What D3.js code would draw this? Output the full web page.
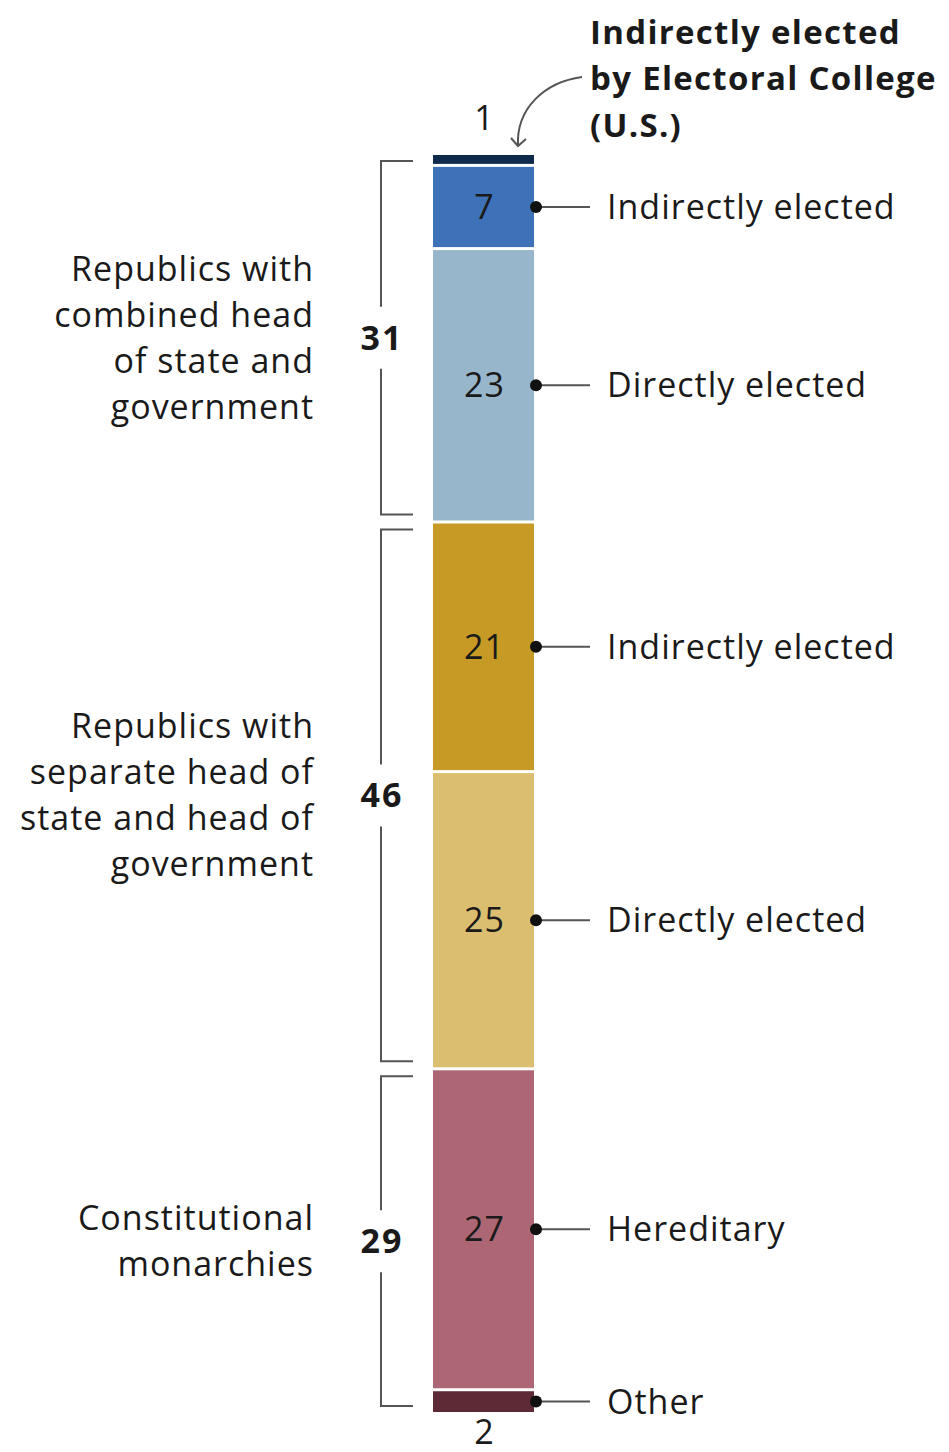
<!DOCTYPE html>
<meta charset='utf-8'>
<head>
  <title>Heads of state</title>
</head>

<style>
body {
  margin: 0;
  background: white;
  font-family: "Open Sans", Roboto, sans-serif;
}

text {
  fill: #1a1a1a;
}

.cat {
  font-size: 34px;
  letter-spacing: 1px;
}

.total {
  font-size: 34px;
  font-weight: bold;
  letter-spacing: 2px;
}

.note {
  font-size: 33px;
  font-weight: bold;
  letter-spacing: 1.3px;
}

.bracket, .leader, .arrow {
  fill: none;
  stroke: #555;
  stroke-width: 2;
}
</style>

<body>
  <svg width='949' height='1452'></svg>

  <script src='https://cdn.jsdelivr.net/npm/d3@7'></script>
  <script>
// segments, top to bottom
var values = [1, 7, 23, 21, 25, 27, 2];
var colors = ['#0f2a4c', '#3d72b8', '#98b6cb', '#c79a26', '#dbbe6f', '#ad6673', '#5d2a35'];
var sideLabels = [null, 'Indirectly elected', 'Directly elected', 'Indirectly elected',
                  'Directly elected', 'Hereditary', 'Other'];

// groups: index range into values
var groups = [
  {first: 0, last: 2, lines: ['Republics with', 'combined head', 'of state and', 'government']},
  {first: 3, last: 4, lines: ['Republics with', 'separate head of', 'state and head of', 'government']},
  {first: 5, last: 6, lines: ['Constitutional', 'monarchies']}
];

var noteLines = ['Indirectly elected', 'by Electoral College', '(U.S.)'];

var svg = d3.select('svg');
var gap = 3;
var barX = 433, barW = 101;

var total = d3.sum(values);
var y = d3.scaleLinear().domain([0, total]).range([155, 1415]);

var segs = [];
var acc = 0;
values.forEach(function(v, i) {
  segs.push({v: v, i: i, start: acc, end: acc + v});
  acc += v;
});
segs.forEach(function(d) {
  d.y0 = y(d.start);
  d.y1 = y(d.end) - gap;
  d.mid = (d.y0 + d.y1) / 2;
});

svg.selectAll('rect.seg')
  .data(segs)
  .enter()
  .append('rect')
  .attr('class', 'seg')
  .attr('x', barX)
  .attr('width', barW)
  .attr('y', function(d) { return d.y0; })
  .attr('height', function(d) { return d.y1 - d.y0; })
  .attr('fill', function(d) { return colors[d.i]; });

// value labels: inside for big ones, above/below for the thin ones
svg.selectAll('text.val')
  .data(segs)
  .enter()
  .append('text')
  .attr('class', 'cat')
  .attr('text-anchor', 'middle')
  .attr('x', barX + barW / 2 + 1)
  .attr('y', function(d, i) {
    if (i === 0) return d.y0 - 37;
    if (i === segs.length - 1) return d.y1 + 20;
    return d.mid;
  })
  .attr('dy', '0.35em')
  .text(function(d) { return d.v; });

// leaders and side labels
var labelled = segs.filter(function(d) { return sideLabels[d.i]; });

svg.selectAll('line.leader')
  .data(labelled)
  .enter()
  .append('line')
  .attr('class', 'leader')
  .attr('x1', barX + barW + 2)
  .attr('x2', 590)
  .attr('y1', function(d) { return d.mid; })
  .attr('y2', function(d) { return d.mid; });

svg.selectAll('circle.dot')
  .data(labelled)
  .enter()
  .append('circle')
  .attr('cx', barX + barW + 2)
  .attr('cy', function(d) { return d.mid; })
  .attr('r', 6)
  .attr('fill', '#111');

svg.selectAll('text.side')
  .data(labelled)
  .enter()
  .append('text')
  .attr('class', 'cat')
  .attr('x', 607)
  .attr('y', function(d) { return d.mid; })
  .attr('dy', '0.35em')
  .text(function(d) { return sideLabels[d.i]; });

// brackets
var bx = 381, tickEnd = 413, inset = 6, lineH = 46;

groups.forEach(function(g) {
  var top = segs[g.first].y0 + inset;
  var bot = segs[g.last].y1 - inset;
  var mid = (top + bot) / 2;
  var sum = d3.sum(values.slice(g.first, g.last + 1));

  svg.append('path')
    .attr('class', 'bracket')
    .attr('d', 'M' + tickEnd + ',' + top + 'H' + bx + 'V' + (mid - 31));
  svg.append('path')
    .attr('class', 'bracket')
    .attr('d', 'M' + bx + ',' + (mid + 31) + 'V' + bot + 'H' + tickEnd);

  svg.append('text')
    .attr('class', 'total')
    .attr('text-anchor', 'middle')
    .attr('x', bx + 1)
    .attr('y', mid)
    .attr('dy', '0.35em')
    .text(sum);

  var n = g.lines.length;
  svg.append('g').selectAll('text')
    .data(g.lines)
    .enter()
    .append('text')
    .attr('class', 'cat')
    .attr('text-anchor', 'end')
    .attr('x', 314)
    .attr('y', function(d, i) { return mid + (i - (n - 1) / 2) * lineH; })
    .attr('dy', '0.35em')
    .text(function(d) { return d; });
});

// note for the single U.S. case
svg.append('g').selectAll('text')
  .data(noteLines)
  .enter()
  .append('text')
  .attr('class', 'note')
  .attr('x', 590)
  .attr('y', function(d, i) { return 32 + i * 46.5; })
  .attr('dy', '0.35em')
  .text(function(d) { return d; });

var ax = 518, ay = 146;
svg.append('path')
  .attr('class', 'arrow')
  .attr('d', 'M582,77C545,82 516,108 ' + ax + ',' + ay);
svg.append('path')
  .attr('class', 'arrow')
  .attr('d', 'M' + (ax - 7) + ',' + (ay - 8) + 'L' + ax + ',' + ay + 'L' + (ax + 8) + ',' + (ay - 7));
  </script>
</body>
</html>
